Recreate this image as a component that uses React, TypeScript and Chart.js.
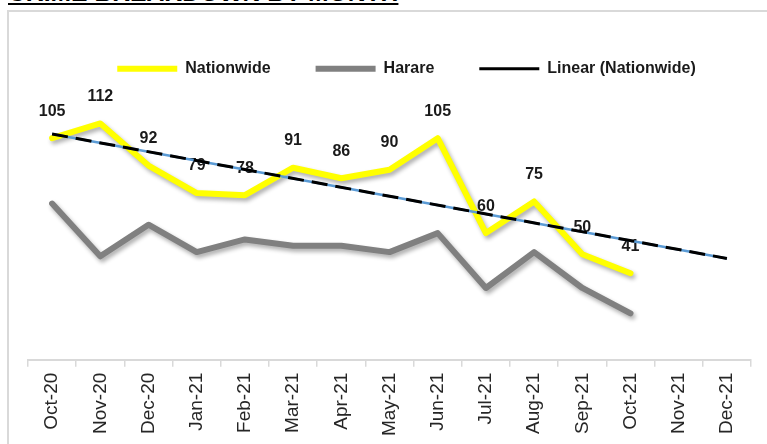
import React, { useEffect, useRef } from 'react';
import { Chart, registerables } from 'chart.js';

Chart.register(...registerables);

const titleText = 'CRIME BREAKDOWN BY MONTH';

const months = [
  'Oct-20', 'Nov-20', 'Dec-20', 'Jan-21', 'Feb-21', 'Mar-21', 'Apr-21', 'May-21',
  'Jun-21', 'Jul-21', 'Aug-21', 'Sep-21', 'Oct-21', 'Nov-21', 'Dec-21',
];

const nationwide = [105, 112, 92, 79, 78, 91, 86, 90, 105, 60, 75, 50, 41];
const harare = [74, 49, 64, 51, 57, 54, 54, 51, 60, 34, 51, 34, 22];
// Linear trendline of Nationwide (start Oct-20, end Dec-21)
const trendNationwide: (number | null)[] = [
  107, null, null, null, null, null, null, null, null, null, null, null, null, null, 48,
];

const yMin = 0;
const yMax = 129.4;

const SANS = "'Liberation Sans', Arial, sans-serif";
const LEGEND_SHIFT = 17;

export default function App() {
  const ref = useRef<HTMLCanvasElement>(null);

  useEffect(() => {
    if (!ref.current) return;

    const shadowPlugin = {
      id: 'lineShadow',
      beforeDatasetDraw(chart: any, args: any) {
        const ds = chart.data.datasets[args.index];
        if (!ds.shadow) return;
        const ctx = chart.ctx;
        ctx.save();
        ctx.shadowColor = 'rgba(0,0,0,0.32)';
        ctx.shadowBlur = 4;
        ctx.shadowOffsetX = 2;
        ctx.shadowOffsetY = 3;
      },
      afterDatasetDraw(chart: any, args: any) {
        const ds = chart.data.datasets[args.index];
        if (!ds.shadow) return;
        chart.ctx.restore();
      },
    };

    const valueLabels = {
      id: 'valueLabels',
      afterDatasetDraw(chart: any, args: any) {
        if (args.index !== 0) return;
        const ctx = chart.ctx;
        const meta = chart.getDatasetMeta(0);
        ctx.save();
        ctx.font = `bold 16px ${SANS}`;
        ctx.fillStyle = '#1a1a1a';
        ctx.textAlign = 'center';
        ctx.textBaseline = 'middle';
        meta.data.forEach((pt: any, i: number) => {
          const v = nationwide[i];
          if (v == null) return;
          ctx.fillText(String(v), pt.x, pt.y - 27);
        });
        ctx.restore();
      },
    };

    const legendShift = {
      id: 'legendShift',
      afterLayout(chart: any) {
        const lg = chart.legend;
        if (lg) {
          lg.left += LEGEND_SHIFT;
          lg.right += LEGEND_SHIFT;
        }
      },
    };

    const chart = new Chart(ref.current, {
      type: 'line',
      data: {
        labels: months,
        datasets: [
          {
            label: 'Nationwide',
            data: nationwide,
            borderColor: '#FFFF00',
            backgroundColor: '#FFFF00',
            borderWidth: 6,
            borderCapStyle: 'round',
            borderJoinStyle: 'round',
            pointRadius: 0,
            pointStyle: 'line',
            tension: 0,
            order: 2,
            shadow: true,
          } as any,
          {
            label: 'Harare',
            data: harare,
            borderColor: '#808080',
            backgroundColor: '#808080',
            borderWidth: 6,
            borderCapStyle: 'round',
            borderJoinStyle: 'round',
            pointRadius: 0,
            pointStyle: 'line',
            tension: 0,
            order: 3,
            shadow: true,
          } as any,
          {
            label: '_trendBase',
            data: trendNationwide,
            borderColor: '#5B9BD5',
            backgroundColor: '#5B9BD5',
            borderWidth: 2.5,
            pointRadius: 0,
            pointStyle: 'line',
            spanGaps: true,
            tension: 0,
            order: 1,
          } as any,
          {
            label: 'Linear (Nationwide)',
            data: trendNationwide,
            borderColor: '#000000',
            backgroundColor: '#000000',
            borderWidth: 3,
            borderDash: [16, 8],
            pointRadius: 0,
            pointStyle: 'line',
            spanGaps: true,
            tension: 0,
            order: 0,
          } as any,
        ],
      },
      options: {
        animation: false,
        responsive: false,
        layout: { padding: { left: 28, right: 16, top: 15.7, bottom: 0 } },
        plugins: {
          tooltip: { enabled: false },
          title: { display: false },
          legend: {
            display: true,
            position: 'top',
            labels: {
              usePointStyle: true,
              pointStyle: 'line',
              pointStyleWidth: 60,
              padding: 45,
              color: '#1a1a1a',
              font: { family: SANS, size: 16, weight: 'bold' },
              filter: (item: any) => item.text !== '_trendBase',
              sort: (a: any, b: any) => a.datasetIndex - b.datasetIndex,
            },
          },
        },
        scales: {
          x: {
            type: 'category',
            offset: true,
            afterFit: (scale: any) => {
              scale.height = 84.3;
            },
            grid: {
              display: true,
              drawOnChartArea: false,
              drawTicks: true,
              tickLength: 7,
              color: '#d9d9d9',
              lineWidth: 1.5,
              offset: true,
            },
            border: { display: true, color: '#d9d9d9', width: 2 },
            ticks: {
              autoSkip: false,
              minRotation: 90,
              maxRotation: 90,
              padding: 6,
              color: '#262626',
              font: { family: SANS, size: 19 },
            },
          },
          y: {
            display: false,
            min: yMin,
            max: yMax,
          },
        },
      },
      plugins: [shadowPlugin, valueLabels, legendShift],
    } as any);

    return () => chart.destroy();
  }, []);

  return (
    <div style={{ position: 'fixed', inset: 0, background: '#fff', overflow: 'hidden' }}>
      <div
        style={{
          position: 'absolute',
          left: 8,
          top: 0,
          width: 420,
          height: 6,
          overflow: 'hidden',
        }}
      >
        <div
          style={{
            position: 'absolute',
            left: 0,
            bottom: 0,
            whiteSpace: 'nowrap',
            fontFamily: SANS,
            fontWeight: 'bold',
            fontSize: 24.7,
            lineHeight: 1,
            color: '#000',
            textDecoration: 'underline',
            textDecorationThickness: '2px',
            textUnderlineOffset: '1.5px',
          }}
        >
          {titleText}
        </div>
      </div>
      <div
        style={{
          position: 'absolute',
          left: 7,
          top: 10,
          width: 800,
          height: 500,
          border: '2px solid #d9d9d9',
          boxSizing: 'border-box',
        }}
      />
      <canvas
        ref={ref}
        width={767}
        height={444}
        style={{ position: 'absolute', left: 0, top: 0, width: 767, height: 444 }}
      />
    </div>
  );
}
